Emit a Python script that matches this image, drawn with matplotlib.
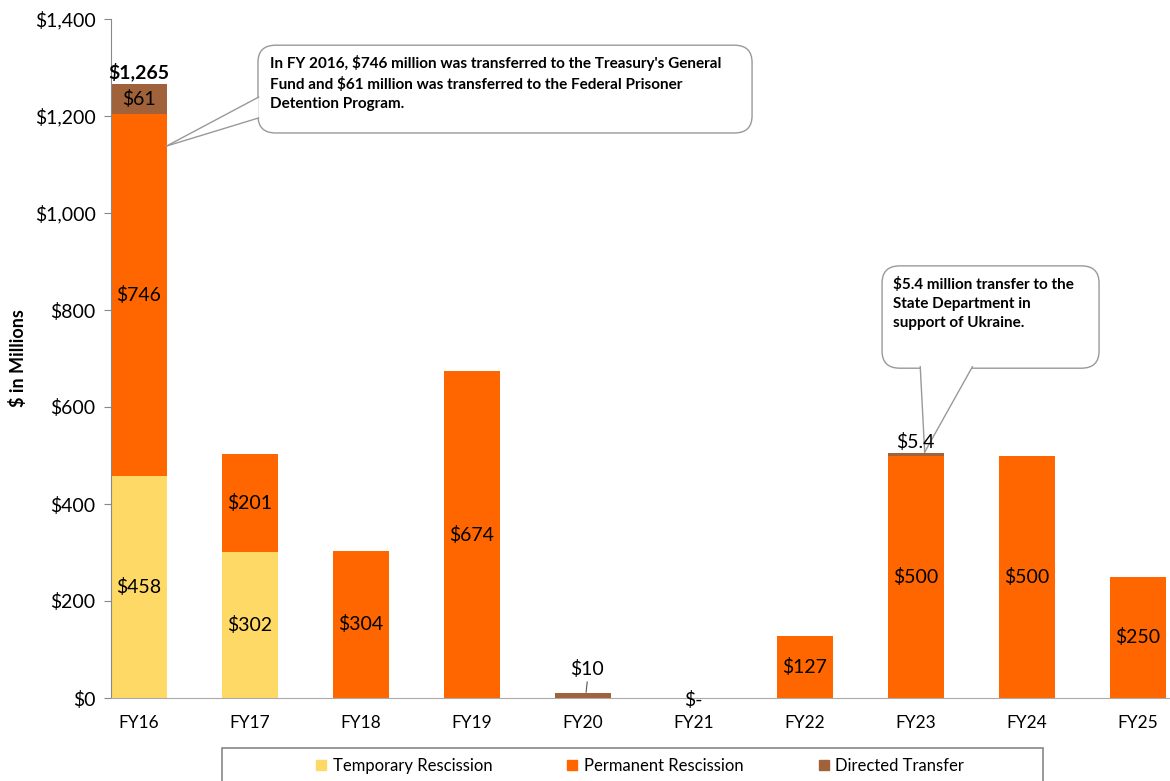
import matplotlib.pyplot as plt
from matplotlib.patches import FancyBboxPatch, Polygon, Rectangle, Patch
import numpy as np

plt.rcParams['font.family'] = ['Lato', 'DejaVu Sans']

# data ($ millions)
years = ['FY16', 'FY17', 'FY18', 'FY19', 'FY20', 'FY21', 'FY22', 'FY23', 'FY24', 'FY25']
temporary = [458, 302, 0, 0, 0, 0, 0, 0, 0, 0]
permanent = [746, 201, 304, 674, 0, 0, 127, 500, 500, 250]
directed = [61, 0, 0, 0, 10, 0, 0, 5.4, 0, 0]

c_temp = '#FFD966'
c_perm = '#FF6600'
c_dir = '#A0623A'

fig = plt.figure(figsize=(11.7, 7.81), dpi=100)
ax = fig.add_axes([111/1170, 1 - 698/781, 1 - 111/1170, (698 - 19)/781])

x = np.arange(len(years))
w = 0.5
temp = np.array(temporary)
perm = np.array(permanent)
dirt = np.array(directed)
ax.bar(x, temp, w, color=c_temp, zorder=2)
ax.bar(x, perm, w, bottom=temp, color=c_perm, zorder=2)
ax.bar(x, dirt, w, bottom=temp + perm, color=c_dir, zorder=2)

ax.set_xlim(-0.25, 9.29)
ax.set_ylim(0, 1400)
ax.set_yticks(range(0, 1401, 200))
ax.set_yticklabels(['$0'] + ['${:,}'.format(v) for v in range(200, 1401, 200)])
ax.set_xticks(x)
ax.set_xticklabels(years)
for s in ['top', 'right']:
    ax.spines[s].set_visible(False)
ax.spines['left'].set_color('#888888')
ax.spines['bottom'].set_color('#AAAAAA')
ax.tick_params(axis='y', length=5, color='#888888', labelsize=14, pad=6)
ax.tick_params(axis='x', length=0, labelsize=12.5, pad=12)

fs = 14
# segment labels
for i in range(len(years)):
    if temp[i] > 0:
        ax.text(x[i], temp[i] / 2, '${:,}'.format(temp[i]), ha='center', va='center', fontsize=fs)
    if perm[i] > 0:
        ax.text(x[i], temp[i] + perm[i] / 2, '${:,}'.format(perm[i]), ha='center', va='center', fontsize=fs)
ax.text(x[0], temp[0] + perm[0] + dirt[0] / 2, '$61', ha='center', va='center', fontsize=fs)
total16 = temp[0] + perm[0] + dirt[0]
ax.text(x[0], total16 + 6, '${:,.0f}'.format(total16), ha='center', va='bottom', fontsize=fs, fontweight='bold')
ax.text(x[4] + 0.04, 60, '$10', ha='center', va='center', fontsize=fs)
ax.plot([x[4] + 0.03, x[4] + 0.04], [12, 33], color='#555555', lw=0.8)
ax.text(x[5], -4, '$-', ha='center', va='center', fontsize=fs)
ax.text(x[7], 528, '$5.4', ha='center', va='center', fontsize=fs, zorder=9)


def callout(box, base, tip, lines, tx, ty):
    x0, y0, x1, y1 = box
    p = FancyBboxPatch((x0, y0), x1 - x0, y1 - y0,
                       boxstyle='round,pad=0,rounding_size=0.16',
                       mutation_aspect=200 / 0.9,
                       fc='white', ec='#999999', lw=1, zorder=5)
    ax.add_patch(p)
    tri = Polygon([base[0], base[1], tip], closed=True, fc='white', ec='none', zorder=6)
    ax.add_patch(tri)
    ax.plot([base[0][0], tip[0]], [base[0][1], tip[1]], color='#999999', lw=1, zorder=7)
    ax.plot([base[1][0], tip[0]], [base[1][1], tip[1]], color='#999999', lw=1, zorder=7)
    ax.text(tx, ty, lines, ha='left', va='top', fontsize=11, fontweight='bold',
            linespacing=1.45, zorder=8)


callout((1.074, 1165, 5.525, 1346), [(1.08, 1239), (1.08, 1196)], (0.25, 1138),
        "In FY 2016, $746 million was transferred to the Treasury's General\n"
        "Fund and $61 million was transferred to the Federal Prisoner\n"
        "Detention Program.", 1.18, 1325)
callout((6.696, 680, 8.651, 891), [(7.04, 683), (7.51, 683)], (7.08, 507),
        "$5.4 million transfer to the\nState Department in\nsupport of Ukraine.", 6.795, 868)

fig.text(18/1170, 1 - 358/781, '$ in Millions', rotation=90, ha='center', va='center',
         fontsize=13, fontweight='bold')

# legend box
fig.patches.append(Rectangle((222/1170, -0.01), 821/1170, 1 - 748/781 + 0.01,
                             transform=fig.transFigure, fc='white', ec='#888888', lw=1.2))
handles = [Patch(color=c_temp), Patch(color=c_perm), Patch(color=c_dir)]
fig.legend(handles, ['Temporary Rescission', 'Permanent Rescission', 'Directed Transfer'],
           loc='center', bbox_to_anchor=(640/1170, 1 - 766/781), ncol=3, frameon=False,
           fontsize=12, handlelength=0.6, handleheight=0.6, handletextpad=0.4, columnspacing=4.5)

fig.savefig('out.png', dpi=100)
